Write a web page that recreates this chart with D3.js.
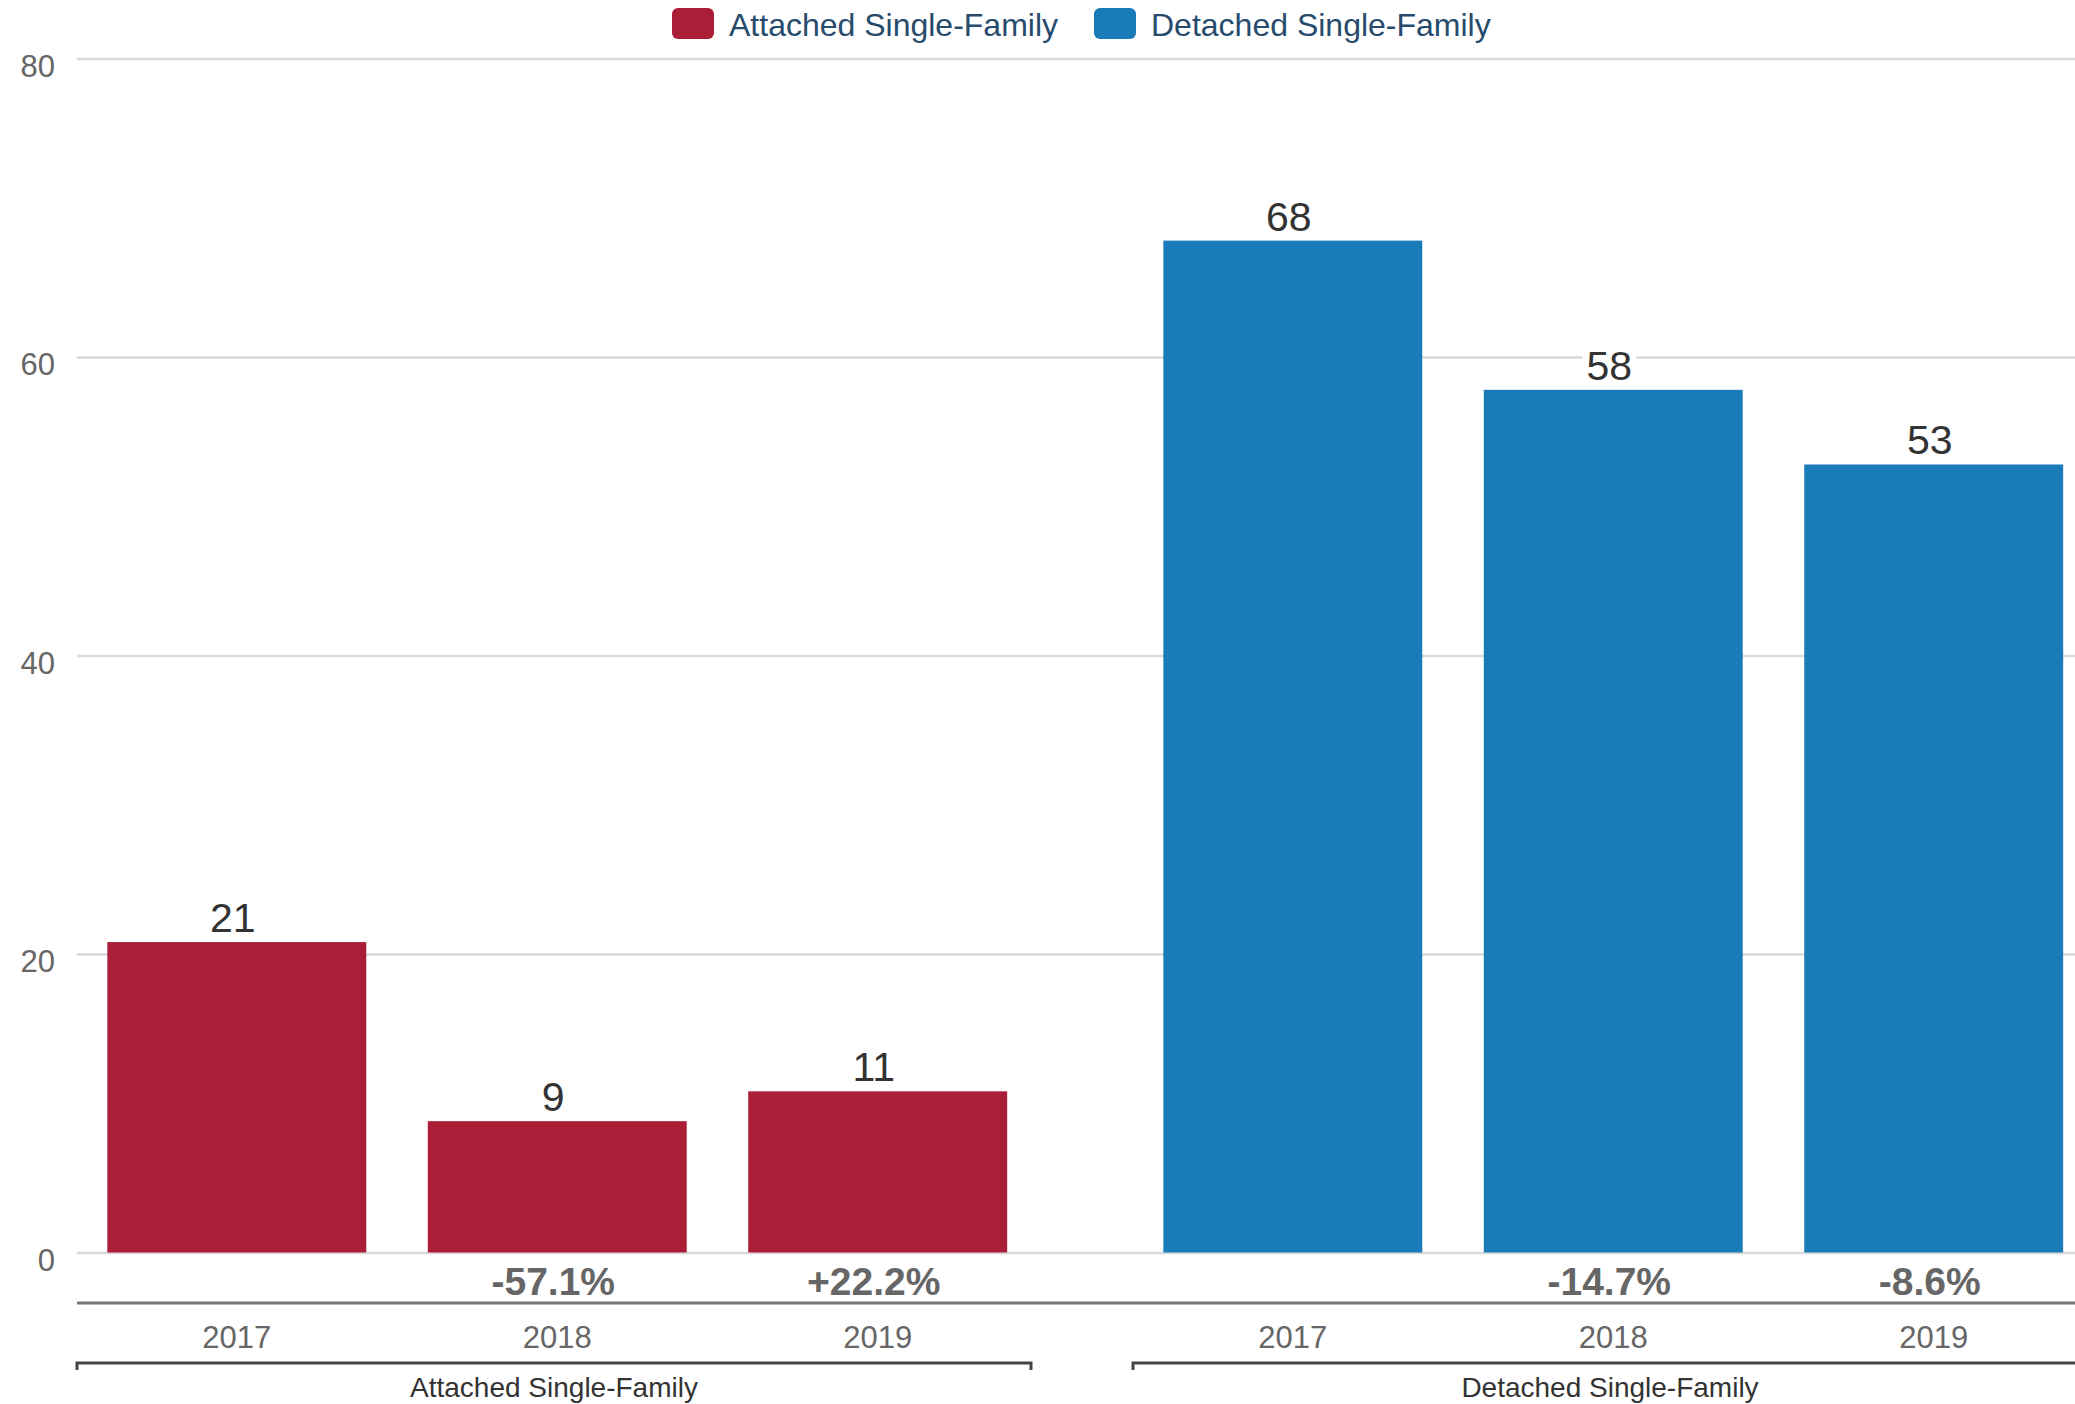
<!DOCTYPE html>
<html lang="en">
<meta charset="utf-8">
<style>
  body { margin: 0; background: #fff; }
  text { font-family: "Liberation Sans", Arial, sans-serif; }
</style>
<body>
<div id="chart"></div>

<script src="https://d3js.org/d3.v7.min.js"></script>
<script>

// data
var groups = ["Attached Single-Family", "Detached Single-Family"];
var years = ["2017", "2018", "2019"];
var attached = [21, 9, 11];
var detached = [68, 58, 53];
var attachedChange = ["", "-57.1%", "+22.2%"];
var detachedChange = ["", "-14.7%", "-8.6%"];
var yTicks = [0, 20, 40, 60, 80];
var colors = ["#ab1e37", "#1a7bb9"];

var W = 2075, H = 1404;
var barInset = 3; // columns sit a touch below their value (white border)

var svg = d3.select("#chart").append("svg")
  .attr("width", W)
  .attr("height", H);

// scales
var y = d3.scaleLinear().domain([0, 80]).range([1252.5, 58.5]);

var x0 = d3.scaleBand()
  .domain(groups)
  .range([77, 2087])
  .paddingInner(0.0966);

var x1 = d3.scaleBand()
  .domain(years)
  .range([0, x0.bandwidth()])
  .paddingInner(0.192)
  .paddingOuter(0.0845)
  .align(0.56);

// gridlines + y labels
var yAxis = svg.append("g")
  .attr("transform", "translate(77,0)")
  .call(d3.axisLeft(y).tickValues(yTicks).tickSize(-(W - 77)).tickPadding(22));
yAxis.select(".domain").remove();
yAxis.selectAll(".tick line").attr("stroke", "#dadada").attr("stroke-width", 2.5);
yAxis.selectAll(".tick text")
  .attr("fill", "#666")
  .style("font-size", "31px")
  .attr("dy", "0.58em");

// one table of rows, built from the arrays
var series = [attached, detached];
var changes = [attachedChange, detachedChange];
var rows = [];
groups.forEach(function(g, gi) {
  years.forEach(function(yr, i) {
    rows.push({group: g, gi: gi, year: yr, value: series[gi][i], change: changes[gi][i]});
  });
});

function cx(d) { return x0(d.group) + x1(d.year) + x1.bandwidth() / 2; }

// bars
svg.append("g").selectAll("rect")
  .data(rows)
  .enter().append("rect")
  .attr("x", function(d) { return x0(d.group) + x1(d.year); })
  .attr("y", function(d) { return y(d.value) + barInset; })
  .attr("width", x1.bandwidth())
  .attr("height", function(d) { return y(0) - y(d.value) - barInset; })
  .attr("fill", function(d) { return colors[d.gi]; });

// value labels with a white box behind them
var lab = svg.append("g").selectAll("g")
  .data(rows)
  .enter().append("g")
  .attr("transform", function(d) {
    return "translate(" + (cx(d) - 4) + "," + (y(d.value) + barInset - 10) + ")";
  });
lab.append("rect").attr("fill", "#fff");
lab.append("text")
  .attr("text-anchor", "middle")
  .attr("fill", "#333")
  .style("font-size", "41px")
  .text(function(d) { return d.value; });
lab.each(function() {
  var g = d3.select(this);
  var bb = g.select("text").node().getBBox();
  g.select("rect")
    .attr("x", bb.x - 4).attr("y", bb.y + 2)
    .attr("width", bb.width + 8).attr("height", bb.height - 4);
});

// percent change row
svg.append("g").selectAll("text")
  .data(rows)
  .enter().append("text")
  .attr("x", function(d) { return cx(d) - 4; })
  .attr("y", 1295)
  .attr("text-anchor", "middle")
  .attr("fill", "#666")
  .style("font-size", "39px")
  .style("font-weight", "bold")
  .text(function(d) { return d.change; });

// x axis line
svg.append("line")
  .attr("x1", 77).attr("x2", W)
  .attr("y1", 1303).attr("y2", 1303)
  .attr("stroke", "#777").attr("stroke-width", 3);

// year labels
svg.append("g").selectAll("text")
  .data(rows)
  .enter().append("text")
  .attr("x", cx)
  .attr("y", 1348)
  .attr("text-anchor", "middle")
  .attr("fill", "#666")
  .style("font-size", "31px")
  .text(function(d) { return d.year; });

// group brackets + labels
var gb = svg.append("g").selectAll("g")
  .data(groups)
  .enter().append("g");
gb.append("path")
  .attr("d", function(d) {
    var a = x0(d), b = x0(d) + x0.bandwidth();
    return "M" + a + ",1370V1363H" + b + "V1370";
  })
  .attr("fill", "none")
  .attr("stroke", "#444")
  .attr("stroke-width", 3);
gb.append("text")
  .attr("x", function(d) { return x0(d) + x0.bandwidth() / 2; })
  .attr("y", 1397)
  .attr("text-anchor", "middle")
  .attr("fill", "#333")
  .style("font-size", "28px")
  .text(function(d) { return d; });

// legend
var legX = [672, 1094];
var leg = svg.append("g").selectAll("g")
  .data(groups)
  .enter().append("g")
  .attr("transform", function(d, i) { return "translate(" + legX[i] + ",8)"; });
leg.append("rect")
  .attr("width", 42).attr("height", 31).attr("rx", 6)
  .attr("fill", function(d, i) { return colors[i]; });
leg.append("text")
  .attr("x", 57).attr("y", 28)
  .attr("fill", "#274b6d")
  .style("font-size", "32px")
  .text(function(d) { return d; });

</script>
</body>
</html>
